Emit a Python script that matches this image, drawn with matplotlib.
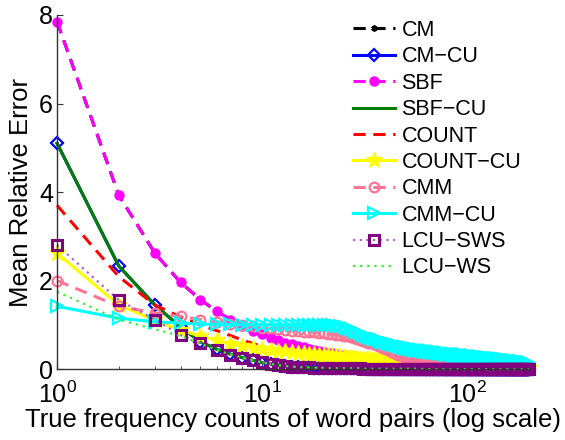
import numpy as np
import matplotlib
matplotlib.use("Agg")
import matplotlib.pyplot as plt
from matplotlib.ticker import LogLocator, NullFormatter

plt.rcParams["font.family"] = ["Liberation Sans", "DejaVu Sans"]

# true frequency counts 1..200
counts = np.arange(1, 201)

# SBF (CM gives the same curve, drawn underneath)
sbf = [
    7.85, 3.93, 2.62, 1.96, 1.57, 1.31, 1.12, 0.98, 0.87, 0.79,
    0.71, 0.65, 0.60, 0.56, 0.52, 0.49, 0.46, 0.44, 0.41, 0.39,
    0.37, 0.36, 0.34, 0.33, 0.31, 0.30, 0.29, 0.28, 0.27, 0.26,
    0.25, 0.25, 0.24, 0.23, 0.22, 0.22, 0.21, 0.21, 0.20, 0.20,
    0.19, 0.19, 0.18, 0.18, 0.17, 0.17, 0.17, 0.16, 0.16, 0.16,
    0.15, 0.15, 0.15, 0.15, 0.14, 0.14, 0.14, 0.14, 0.13, 0.13,
    0.13, 0.13, 0.12, 0.12, 0.12, 0.12, 0.12, 0.12, 0.11, 0.11,
    0.11, 0.11, 0.11, 0.11, 0.10, 0.10, 0.10, 0.10, 0.10, 0.10,
    0.10, 0.10, 0.09, 0.09, 0.09, 0.09, 0.09, 0.09, 0.09, 0.09,
    0.09, 0.09, 0.08, 0.08, 0.08, 0.08, 0.08, 0.08, 0.08, 0.08,
    0.08, 0.08, 0.08, 0.08, 0.07, 0.07, 0.07, 0.07, 0.07, 0.07,
    0.07, 0.07, 0.07, 0.07, 0.07, 0.07, 0.07, 0.07, 0.07, 0.07,
    0.06, 0.06, 0.06, 0.06, 0.06, 0.06, 0.06, 0.06, 0.06, 0.06,
    0.06, 0.06, 0.06, 0.06, 0.06, 0.06, 0.06, 0.06, 0.06, 0.06,
    0.06, 0.06, 0.05, 0.05, 0.05, 0.05, 0.05, 0.05, 0.05, 0.05,
    0.05, 0.05, 0.05, 0.05, 0.05, 0.05, 0.05, 0.05, 0.05, 0.05,
    0.05, 0.05, 0.05, 0.05, 0.05, 0.05, 0.05, 0.05, 0.05, 0.05,
    0.05, 0.05, 0.05, 0.05, 0.04, 0.04, 0.04, 0.04, 0.04, 0.04,
    0.04, 0.04, 0.04, 0.04, 0.04, 0.04, 0.04, 0.04, 0.04, 0.04,
    0.04, 0.04, 0.04, 0.04, 0.04, 0.04, 0.04, 0.04, 0.04, 0.04,
]

# CM-CU (SBF-CU gives the same curve)
cm_cu = [
    5.10, 2.33, 1.45, 0.95, 0.62, 0.45, 0.34, 0.26, 0.20, 0.15,
    0.12, 0.09, 0.07, 0.06, 0.05, 0.04, 0.04, 0.03, 0.03, 0.03,
    0.02, 0.02, 0.02, 0.02, 0.02, 0.02, 0.02, 0.02, 0.02, 0.02,
    0.02, 0.02, 0.01, 0.01, 0.01, 0.01, 0.01, 0.01, 0.01, 0.01,
    0.01, 0.01, 0.01, 0.01, 0.01, 0.01, 0.01, 0.01, 0.01, 0.01,
    0.01, 0.01, 0.01, 0.01, 0.01, 0.01, 0.01, 0.01, 0.01, 0.01,
    0, 0, 0, 0, 0, 0, 0, 0, 0, 0, 0, 0, 0, 0, 0, 0, 0, 0, 0, 0,
    0, 0, 0, 0, 0, 0, 0, 0, 0, 0, 0, 0, 0, 0, 0, 0, 0, 0, 0, 0,
    0, 0, 0, 0, 0, 0, 0, 0, 0, 0, 0, 0, 0, 0, 0, 0, 0, 0, 0, 0,
    0, 0, 0, 0, 0, 0, 0, 0, 0, 0, 0, 0, 0, 0, 0, 0, 0, 0, 0, 0,
    0, 0, 0, 0, 0, 0, 0, 0, 0, 0, 0, 0, 0, 0, 0, 0, 0, 0, 0, 0,
    0, 0, 0, 0, 0, 0, 0, 0, 0, 0, 0, 0, 0, 0, 0, 0, 0, 0, 0, 0,
    0, 0, 0, 0, 0, 0, 0, 0, 0, 0, 0, 0, 0, 0, 0, 0, 0, 0, 0, 0,
]

count = [
    3.70, 2.09, 1.45, 1.18, 1.00, 0.87, 0.76, 0.66, 0.58, 0.51,
    0.46, 0.42, 0.38, 0.35, 0.33, 0.31, 0.29, 0.27, 0.26, 0.24,
    0.23, 0.22, 0.21, 0.20, 0.19, 0.18, 0.17, 0.16, 0.16, 0.15,
    0.15, 0.14, 0.14, 0.13, 0.13, 0.12, 0.12, 0.12, 0.11, 0.11,
    0.11, 0.10, 0.10, 0.10, 0.10, 0.09, 0.09, 0.09, 0.09, 0.08,
    0.08, 0.08, 0.08, 0.08, 0.08, 0.07, 0.07, 0.07, 0.07, 0.07,
    0.07, 0.07, 0.06, 0.06, 0.06, 0.06, 0.06, 0.06, 0.06, 0.06,
    0.06, 0.06, 0.06, 0.06, 0.05, 0.05, 0.05, 0.05, 0.05, 0.05,
    0.05, 0.05, 0.05, 0.05, 0.05, 0.05, 0.05, 0.05, 0.05, 0.05,
    0.05, 0.05, 0.04, 0.04, 0.04, 0.04, 0.04, 0.04, 0.04, 0.04,
    0.04, 0.04, 0.04, 0.04, 0.04, 0.04, 0.04, 0.04, 0.04, 0.04,
    0.04, 0.04, 0.04, 0.04, 0.04, 0.04, 0.04, 0.04, 0.04, 0.04,
    0.03, 0.03, 0.03, 0.03, 0.03, 0.03, 0.03, 0.03, 0.03, 0.03,
    0.03, 0.03, 0.03, 0.03, 0.03, 0.03, 0.03, 0.03, 0.03, 0.03,
    0.03, 0.03, 0.03, 0.03, 0.03, 0.03, 0.03, 0.03, 0.03, 0.03,
    0.03, 0.03, 0.03, 0.03, 0.03, 0.03, 0.03, 0.03, 0.03, 0.03,
    0.02, 0.02, 0.02, 0.02, 0.02, 0.02, 0.02, 0.02, 0.02, 0.02,
    0.02, 0.02, 0.02, 0.02, 0.02, 0.02, 0.02, 0.02, 0.02, 0.02,
    0.02, 0.02, 0.02, 0.02, 0.02, 0.02, 0.02, 0.02, 0.02, 0.02,
    0.02, 0.02, 0.02, 0.02, 0.02, 0.02, 0.02, 0.02, 0.02, 0.02,
]

count_cu = [
    2.62, 1.45, 1.10, 0.88, 0.75, 0.65, 0.57, 0.52, 0.48, 0.45,
    0.43, 0.42, 0.40, 0.39, 0.37, 0.36, 0.35, 0.34, 0.33, 0.32,
    0.31, 0.30, 0.30, 0.29, 0.28, 0.27, 0.27, 0.26, 0.25, 0.24,
    0.24, 0.23, 0.23, 0.22, 0.21, 0.21, 0.20, 0.20, 0.19, 0.18,
    0.18, 0.18, 0.17, 0.17, 0.16, 0.16, 0.16, 0.15, 0.15, 0.14,
    0.14, 0.14, 0.14, 0.13, 0.13, 0.13, 0.13, 0.12, 0.12, 0.12,
    0.12, 0.11, 0.11, 0.11, 0.11, 0.11, 0.10, 0.10, 0.10, 0.10,
    0.10, 0.09, 0.09, 0.09, 0.09, 0.09, 0.09, 0.08, 0.08, 0.08,
    0.08, 0.08, 0.08, 0.08, 0.07, 0.07, 0.07, 0.07, 0.07, 0.07,
    0.07, 0.07, 0.06, 0.06, 0.06, 0.06, 0.06, 0.06, 0.06, 0.06,
    0.06, 0.06, 0.06, 0.06, 0.06, 0.06, 0.06, 0.06, 0.06, 0.06,
    0.05, 0.05, 0.05, 0.05, 0.05, 0.05, 0.05, 0.05, 0.05, 0.05,
    0.05, 0.05, 0.05, 0.05, 0.05, 0.05, 0.05, 0.05, 0.05, 0.05,
    0.04, 0.04, 0.04, 0.04, 0.04, 0.04, 0.04, 0.04, 0.04, 0.04,
    0.04, 0.04, 0.04, 0.04, 0.04, 0.04, 0.04, 0.04, 0.04, 0.04,
    0.04, 0.04, 0.04, 0.04, 0.04, 0.04, 0.04, 0.04, 0.04, 0.04,
    0.03, 0.03, 0.03, 0.03, 0.03, 0.03, 0.03, 0.03, 0.03, 0.03,
    0.03, 0.03, 0.03, 0.03, 0.03, 0.03, 0.03, 0.03, 0.03, 0.03,
    0.03, 0.03, 0.03, 0.03, 0.03, 0.03, 0.03, 0.03, 0.03, 0.03,
    0.03, 0.03, 0.03, 0.03, 0.03, 0.03, 0.03, 0.03, 0.03, 0.03,
]

cmm = [
    2.00, 1.42, 1.27, 1.19, 1.12, 1.07, 1.03, 1.00, 0.97, 0.94,
    0.92, 0.90, 0.88, 0.87, 0.86, 0.85, 0.84, 0.83, 0.82, 0.81,
    0.80, 0.79, 0.78, 0.77, 0.75, 0.74, 0.72, 0.70, 0.68, 0.66,
    0.64, 0.62, 0.60, 0.58, 0.56, 0.54, 0.52, 0.50, 0.48, 0.46,
    0.43, 0.41, 0.39, 0.37, 0.35, 0.33, 0.31, 0.29, 0.28, 0.27,
    0.26, 0.25, 0.24, 0.23, 0.22, 0.21, 0.20, 0.19, 0.18, 0.17,
    0.17, 0.16, 0.16, 0.15, 0.15, 0.14, 0.14, 0.13, 0.13, 0.13,
    0.13, 0.12, 0.12, 0.12, 0.11, 0.11, 0.11, 0.10, 0.10, 0.10,
    0.10, 0.09, 0.09, 0.09, 0.09, 0.08, 0.08, 0.08, 0.08, 0.08,
    0.07, 0.07, 0.07, 0.07, 0.07, 0.07, 0.06, 0.06, 0.06, 0.06,
    0.06, 0.06, 0.06, 0.06, 0.06, 0.06, 0.06, 0.06, 0.06, 0.06,
    0.05, 0.05, 0.05, 0.05, 0.05, 0.05, 0.05, 0.05, 0.05, 0.05,
    0.05, 0.05, 0.05, 0.05, 0.05, 0.04, 0.04, 0.04, 0.04, 0.04,
    0.04, 0.04, 0.04, 0.04, 0.04, 0.04, 0.04, 0.04, 0.04, 0.04,
    0.04, 0.04, 0.04, 0.04, 0.04, 0.04, 0.04, 0.04, 0.04, 0.04,
    0.03, 0.03, 0.03, 0.03, 0.03, 0.03, 0.03, 0.03, 0.03, 0.03,
    0.03, 0.03, 0.03, 0.03, 0.03, 0.03, 0.03, 0.03, 0.03, 0.03,
    0.03, 0.03, 0.03, 0.03, 0.03, 0.02, 0.02, 0.02, 0.02, 0.02,
    0.02, 0.02, 0.02, 0.02, 0.02, 0.02, 0.02, 0.02, 0.02, 0.02,
    0.02, 0.02, 0.02, 0.02, 0.02, 0.02, 0.02, 0.02, 0.02, 0.02,
]

cmm_cu = [
    1.42, 1.15, 1.07, 1.04, 1.02, 1.01, 1.01, 1.00, 1.00, 1.00,
    1.00, 1.00, 1.00, 1.00, 1.00, 1.00, 1.00, 1.00, 1.00, 1.00,
    1.00, 0.99, 0.98, 0.97, 0.95, 0.93, 0.90, 0.87, 0.84, 0.81,
    0.78, 0.75, 0.73, 0.71, 0.69, 0.67, 0.65, 0.63, 0.62, 0.60,
    0.59, 0.57, 0.56, 0.55, 0.54, 0.52, 0.51, 0.50, 0.49, 0.48,
    0.48, 0.47, 0.46, 0.46, 0.45, 0.44, 0.44, 0.43, 0.43, 0.42,
    0.42, 0.41, 0.41, 0.40, 0.40, 0.39, 0.39, 0.39, 0.38, 0.38,
    0.38, 0.37, 0.37, 0.37, 0.36, 0.36, 0.36, 0.35, 0.35, 0.35,
    0.34, 0.34, 0.34, 0.34, 0.33, 0.33, 0.33, 0.33, 0.32, 0.32,
    0.32, 0.32, 0.31, 0.31, 0.31, 0.31, 0.30, 0.30, 0.30, 0.30,
    0.30, 0.29, 0.29, 0.29, 0.29, 0.29, 0.28, 0.28, 0.28, 0.28,
    0.28, 0.27, 0.27, 0.27, 0.27, 0.27, 0.26, 0.26, 0.26, 0.26,
    0.26, 0.25, 0.25, 0.25, 0.25, 0.25, 0.24, 0.24, 0.24, 0.24,
    0.24, 0.23, 0.23, 0.23, 0.23, 0.23, 0.22, 0.22, 0.22, 0.22,
    0.22, 0.22, 0.21, 0.21, 0.21, 0.21, 0.21, 0.21, 0.20, 0.20,
    0.20, 0.20, 0.20, 0.20, 0.19, 0.19, 0.19, 0.19, 0.19, 0.19,
    0.19, 0.18, 0.18, 0.18, 0.18, 0.18, 0.18, 0.18, 0.17, 0.17,
    0.17, 0.17, 0.17, 0.17, 0.17, 0.17, 0.16, 0.16, 0.16, 0.16,
    0.16, 0.16, 0.16, 0.16, 0.16, 0.15, 0.15, 0.15, 0.15, 0.15,
    0.15, 0.15, 0.15, 0.15, 0.15, 0.14, 0.14, 0.14, 0.14, 0.14,
]

lcu_sws = [
    2.80, 1.56, 1.12, 0.77, 0.59, 0.44, 0.33, 0.26, 0.20, 0.16,
    0.12, 0.09, 0.07, 0.06, 0.05, 0.04, 0.04, 0.03, 0.03, 0.03,
    0.02, 0.02, 0.02, 0.02, 0.02, 0.02, 0.02, 0.02, 0.02, 0.02,
    0.01, 0.01, 0.01, 0.01, 0.01, 0.01, 0.01, 0.01, 0.01, 0.01,
    0.01, 0.01, 0.01, 0.01, 0.01, 0.01, 0.01, 0.01, 0.01, 0.01,
    0.01, 0.01, 0.01, 0.01, 0.01, 0.01, 0.01, 0.01, 0.01, 0.01,
    0, 0, 0, 0, 0, 0, 0, 0, 0, 0, 0, 0, 0, 0, 0, 0, 0, 0, 0, 0,
    0, 0, 0, 0, 0, 0, 0, 0, 0, 0, 0, 0, 0, 0, 0, 0, 0, 0, 0, 0,
    0, 0, 0, 0, 0, 0, 0, 0, 0, 0, 0, 0, 0, 0, 0, 0, 0, 0, 0, 0,
    0, 0, 0, 0, 0, 0, 0, 0, 0, 0, 0, 0, 0, 0, 0, 0, 0, 0, 0, 0,
    0, 0, 0, 0, 0, 0, 0, 0, 0, 0, 0, 0, 0, 0, 0, 0, 0, 0, 0, 0,
    0, 0, 0, 0, 0, 0, 0, 0, 0, 0, 0, 0, 0, 0, 0, 0, 0, 0, 0, 0,
    0, 0, 0, 0, 0, 0, 0, 0, 0, 0, 0, 0, 0, 0, 0, 0, 0, 0, 0, 0,
]

lcu_ws = [
    1.75, 1.12, 0.90, 0.75, 0.58, 0.44, 0.33, 0.26, 0.20, 0.15,
    0.12, 0.09, 0.07, 0.06, 0.05, 0.04, 0.04, 0.03, 0.03, 0.03,
    0.02, 0.02, 0.02, 0.02, 0.02, 0.02, 0.02, 0.02, 0.02, 0.02,
    0.01, 0.01, 0.01, 0.01, 0.01, 0.01, 0.01, 0.01, 0.01, 0.01,
    0.01, 0.01, 0.01, 0.01, 0.01, 0.01, 0.01, 0.01, 0.01, 0.01,
    0.01, 0.01, 0.01, 0.01, 0.01, 0.01, 0.01, 0.01, 0.01, 0.01,
    0, 0, 0, 0, 0, 0, 0, 0, 0, 0, 0, 0, 0, 0, 0, 0, 0, 0, 0, 0,
    0, 0, 0, 0, 0, 0, 0, 0, 0, 0, 0, 0, 0, 0, 0, 0, 0, 0, 0, 0,
    0, 0, 0, 0, 0, 0, 0, 0, 0, 0, 0, 0, 0, 0, 0, 0, 0, 0, 0, 0,
    0, 0, 0, 0, 0, 0, 0, 0, 0, 0, 0, 0, 0, 0, 0, 0, 0, 0, 0, 0,
    0, 0, 0, 0, 0, 0, 0, 0, 0, 0, 0, 0, 0, 0, 0, 0, 0, 0, 0, 0,
    0, 0, 0, 0, 0, 0, 0, 0, 0, 0, 0, 0, 0, 0, 0, 0, 0, 0, 0, 0,
    0, 0, 0, 0, 0, 0, 0, 0, 0, 0, 0, 0, 0, 0, 0, 0, 0, 0, 0, 0,
]

cm = sbf
sbf_cu = cm_cu

DASH = (0, (4, 2.5))
# label, values, style
SERIES = [
    ("CM", cm, dict(color="k", ls=DASH, lw=2.2, marker=(6, 2, 0), ms=4.5, mew=1.3)),
    ("CM\u2212CU", cm_cu, dict(color="#0000ff", ls="-", lw=2.2, marker="D", ms=6, mfc="none", mew=1.6)),
    ("SBF", sbf, dict(color="#ff00ff", ls=DASH, lw=2.2, marker="o", ms=6.5)),
    ("SBF\u2212CU", sbf_cu, dict(color="#007f00", ls="-", lw=2.2)),
    ("COUNT", count, dict(color="#ff0000", ls=DASH, lw=2.2)),
    ("COUNT\u2212CU", count_cu, dict(color="#ffff00", ls="-", lw=2.2, marker="*", ms=12)),
    ("CMM", cmm, dict(color="#ff7393", ls=DASH, lw=2.2, marker="o", ms=7, mfc="none", mew=1.6)),
    ("CMM\u2212CU", cmm_cu, dict(color="#00ffff", ls="-", lw=2.2, marker=">", ms=8, mfc="none", mew=1.6)),
    ("LCU\u2212SWS", lcu_sws, dict(color="#b060c8", ls=(0, (1, 2)), lw=1.6, marker="s", ms=6.5, mfc="none",
                                  mec="#800080", mew=2.2)),
    ("LCU\u2212WS", lcu_ws, dict(color="#33ee33", ls=(0, (1, 2.2)), lw=1.6)),
]

fig = plt.figure(figsize=(5.65, 4.4), dpi=100)
ax = fig.add_axes([0.101, 0.161, 0.835, 0.805])

for label, vals, st in SERIES:
    ax.plot(counts, vals, label=label, clip_on=False, **st)

ax.set_xscale("log")
ax.set_xlim(1, 200)
ax.set_ylim(0, 8)
ax.set_yticks([0, 2, 4, 6, 8])
ax.xaxis.set_major_locator(LogLocator(base=10, numticks=5))
ax.xaxis.set_minor_locator(LogLocator(base=10, subs=np.arange(2, 10), numticks=20))
ax.xaxis.set_minor_formatter(NullFormatter())

for s in ("top", "right"):
    ax.spines[s].set_visible(False)
for s in ("left", "bottom"):
    ax.spines[s].set_color("#333333")
    ax.spines[s].set_linewidth(1.0)
ax.tick_params(which="both", direction="in", labelsize=18, colors="#333333", labelcolor="k")
ax.tick_params(which="major", length=4)
ax.tick_params(which="minor", length=2.5)
ax.tick_params(axis="x", pad=9)
ax.tick_params(axis="y", pad=3)

ax.set_xlabel("True frequency counts of word pairs (log scale)", fontsize=18.5, labelpad=0)
ax.set_ylabel("Mean Relative Error", fontsize=18.5, labelpad=4)

ax.legend(loc="upper left", bbox_to_anchor=(353 / 565, 1 - 20 / 440), bbox_transform=fig.transFigure,
          frameon=False, fontsize=15.5, numpoints=1, handlelength=1.95, handletextpad=0.3,
          labelspacing=0.25, borderpad=0, borderaxespad=0)

fig.savefig("out.png", dpi=100)
